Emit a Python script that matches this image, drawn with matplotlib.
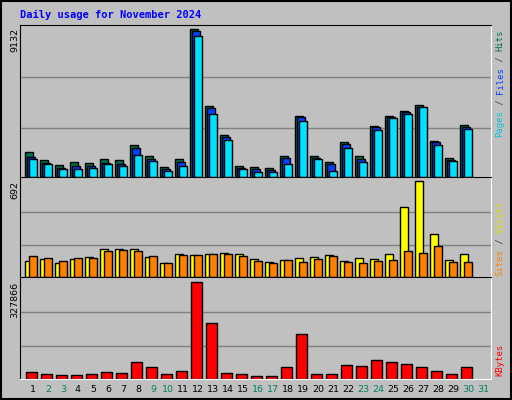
import matplotlib
matplotlib.use("Agg")
import matplotlib.pyplot as plt
from matplotlib.patches import Rectangle

days = [str(d) for d in range(1, 32)]
weekend = {2, 3, 9, 10, 16, 17, 23, 24, 30, 31}
hits = [1550, 1050, 730, 900, 850, 1100, 1050, 1960, 1290, 640, 1100, 9132, 4420, 2620, 710, 640, 580, 1290, 3800, 1290, 900, 2140, 1290, 3180, 3800, 4110, 4480, 2210, 1200, 3240]
files = [1260, 880, 580, 700, 700, 880, 830, 1770, 1140, 520, 940, 9000, 4240, 2500, 580, 520, 450, 1200, 3680, 1200, 830, 2070, 1140, 3120, 3720, 3990, 4360, 2140, 1070, 3120]
pages = [1140, 830, 520, 520, 580, 830, 700, 1380, 1010, 390, 700, 8700, 3920, 2310, 520, 330, 330, 830, 3490, 1140, 390, 1820, 950, 2930, 3660, 3870, 4300, 2010, 1010, 2990]
visits = [117, 132, 102, 132, 147, 200, 200, 200, 147, 102, 170, 162, 170, 177, 170, 132, 110, 125, 140, 147, 162, 117, 140, 132, 170, 505, 692, 310, 125, 170]
sites = [155, 140, 117, 140, 140, 185, 192, 185, 155, 102, 162, 162, 170, 170, 155, 117, 102, 125, 110, 132, 155, 110, 102, 117, 125, 185, 177, 222, 110, 110]
kbytes = [25000, 18000, 14300, 14300, 18000, 25000, 21500, 57200, 39300, 18000, 28600, 327866, 189600, 21500, 18000, 10700, 10700, 39300, 150200, 18000, 18000, 46500, 42900, 64400, 57200, 50000, 39300, 28600, 18000, 39300]

BG = "#c0c0c0"
fig = plt.figure(figsize=(5.12, 4.0), dpi=100, facecolor=BG)
W, H = 512, 400
fig.patches.append(Rectangle((1, 1), 510, 398, transform=None, fill=False, edgecolor="black", lw=1.5))

def ax_at(top, bottom):
    return fig.add_axes([20 / W, 1 - bottom / H, 471 / W, (bottom - top) / H])

def style(ax, ymax):
    ax.set_facecolor(BG)
    ax.set_xlim(-0.353, 31.05)
    ax.set_ylim(0, ymax)
    ax.set_xticks([]); ax.set_yticks([])
    for f in (0.32, 0.655):
        ax.axhline(ymax * f, color="#808080", lw=1, zorder=0)
    for s in ax.spines.values():
        s.set_color("black")
    ax.spines["bottom"].set_color("white")
    ax.spines["right"].set_color("white")

x = list(range(30))
w = 0.49
d = 0.133
ax1 = ax_at(25, 177); style(ax1, 9401)
ax1.bar(x, hits, width=w, align="edge", color="#006f4f", edgecolor="black", lw=1, zorder=2)
ax1.bar([i + d for i in x], files, width=w, align="edge", color="#0040ff", edgecolor="black", lw=1, zorder=3)
ax1.bar([i + 2 * d for i in x], pages, width=w, align="edge", color="#00e0ff", edgecolor="black", lw=1, zorder=4)

ax2 = ax_at(177, 277); style(ax2, 724.5)
ax2.bar(x, visits, width=w, align="edge", color="#ffff00", edgecolor="black", lw=1, zorder=2)
ax2.bar([i + 2 * d for i in x], sites, width=w, align="edge", color="#ff8000", edgecolor="black", lw=1, zorder=3)

ax3 = ax_at(277, 379); style(ax3, 343365)
ax3.bar([i + 0.067 for i in x], kbytes, width=0.69, align="edge", color="#ff0000", edgecolor="black", lw=1, zorder=2)

mono = "DejaVu Sans Mono"
fig.text(20 / W, 1 - 15 / H, "Daily usage for November 2024", color="#0000ff", family=mono,
         weight="bold", fontsize=7.5, va="center", ha="left")

for i, dname in enumerate(days):
    px = 20 + (i + 0.353 + 0.51) * (471 / 31.403)
    fig.text(px / W, 1 - 389 / H, dname, ha="center", va="center", fontsize=6.8,
             color="#008060" if (i + 1) in weekend else "black")

for top, lab in ((28, "9132"), (181, "692"), (282, "327866")):
    fig.text(15 / W, 1 - top / H, lab, rotation=90, ha="center", va="top", fontsize=6.8, color="black")

def right_label(bottom_px, parts):
    cw = 5.35
    idx = 0
    for txt, col in parts:
        fig.text(500 / W, 1 - (bottom_px - idx * cw) / H, txt, rotation=90, ha="center", va="bottom",
                 family=mono, fontsize=6.4, color=col)
        idx += len(txt)

right_label(137, [("Pages", "#00c0e0"), (" / ", "#404040"), ("Files", "#0040ff"), (" / ", "#404040"), ("Hits", "#006f4f")])
right_label(276, [("Sites", "#ff8000"), (" / ", "#404040"), ("Visits", "#e0e000")])
right_label(376, [("KBytes", "#ff0000")])

fig.savefig("out.png", dpi=100, facecolor=BG)
